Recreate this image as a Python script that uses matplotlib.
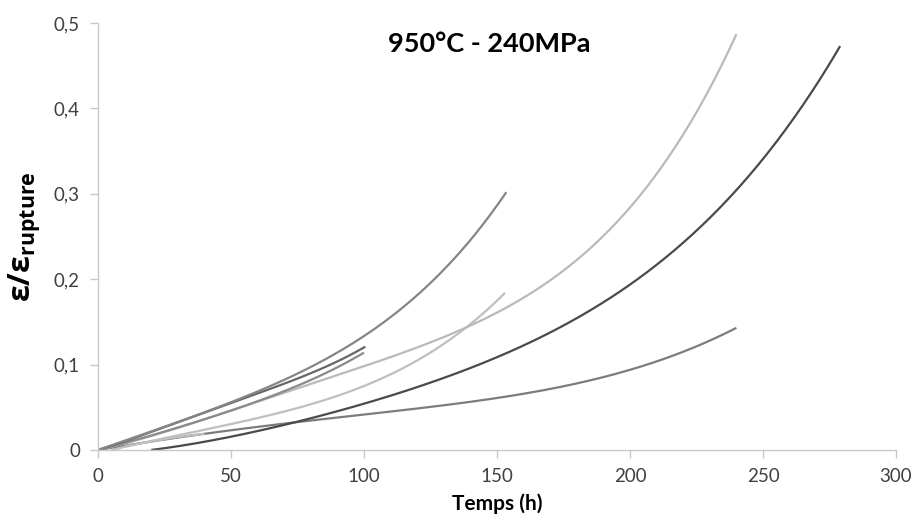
import numpy as np
import matplotlib.pyplot as plt

plt.rcParams['font.family'] = ['Lato', 'DejaVu Sans']
plt.rcParams['mathtext.fontset'] = 'custom'
plt.rcParams['mathtext.rm'] = 'Open Sans'
plt.rcParams['mathtext.bf'] = 'Open Sans:bold'

# creep curves (time in h, strain / rupture strain)
a_t = [0, 20, 40, 60, 80, 100, 120, 140, 153.5]
a_e = [0, 0.022, 0.045, 0.068, 0.095, 0.134, 0.186, 0.240, 0.302]

b_t = [0, 20, 40, 60, 80, 100.5]
b_e = [0, 0.021, 0.044, 0.066, 0.090, 0.121]

c_t = [0, 20, 40, 60, 80, 100]
c_e = [0, 0.017, 0.036, 0.057, 0.082, 0.114]

d_t = [0, 20, 44, 68, 87, 100, 120, 143.6, 165, 182, 189, 200, 214, 226, 240]
d_e = [0, 0.020, 0.040, 0.065, 0.083, 0.096, 0.119, 0.152, 0.190, 0.230, 0.250, 0.285, 0.334, 0.398, 0.487]

e_t = [5, 20, 44, 60, 87, 100, 120, 140, 153]
e_e = [0, 0.011, 0.026, 0.037, 0.061, 0.075, 0.104, 0.148, 0.184]

h_t = [10, 20, 30, 40]
h_e = [0.004, 0.010, 0.015, 0.019]

f_t = [20, 44, 72, 87, 100, 120, 140, 160, 177, 200, 215, 230, 246, 264, 279]
f_e = [0, 0.014, 0.031, 0.043, 0.054, 0.072, 0.094, 0.122, 0.153, 0.196, 0.228, 0.270, 0.326, 0.398, 0.473]

g_t = [0, 20, 44, 72, 87, 100, 120, 140, 160, 180, 200, 215, 230, 240]
g_e = [0, 0.011, 0.020, 0.031, 0.037, 0.042, 0.049, 0.056, 0.066, 0.078, 0.093, 0.110, 0.128, 0.143]

x_ticks = [0, 50, 100, 150, 200, 250, 300]
y_ticks = [0, 0.1, 0.2, 0.3, 0.4, 0.5]
y_labels = ['0', '0,1', '0,2', '0,3', '0,4', '0,5']


def smooth_curve(t, e, n=300):
    # least-squares polynomial through the read points, ends pinned by weight
    t = np.array(t, dtype=float)
    e = np.array(e, dtype=float)
    deg = min(4, len(t) - 2)
    w = np.ones_like(t)
    w[0] = w[-1] = 6
    p = np.polyfit(t, e, deg, w=w)
    tt = np.linspace(t[0], t[-1], n)
    return tt, np.polyval(p, tt)


fig = plt.figure(figsize=(9.17, 5.25), dpi=100)
ax = fig.add_axes([0.1069, 0.1429, 0.8702, 0.8133])

curves = [
    (g_t, g_e, '#7c7c7c'),
    (f_t, f_e, '#4a4a4a'),
    (h_t, h_e, '#bdbdbd'),
    (e_t, e_e, '#bfbfbf'),
    (d_t, d_e, '#bababa'),
    (c_t, c_e, '#8a8a8a'),
    (b_t, b_e, '#666666'),
    (a_t, a_e, '#858585'),
]
for t, e, col in curves:
    tt, ee = smooth_curve(t, e)
    ax.plot(tt, ee, color=col, linewidth=1.6, solid_capstyle='butt')

ax.set_xlim(0, 300)
ax.set_ylim(0, 0.5)
ax.set_xticks(x_ticks)
ax.set_yticks(y_ticks)
ax.set_yticklabels(y_labels)

for s in ['top', 'right']:
    ax.spines[s].set_visible(False)
for s in ['left', 'bottom']:
    ax.spines[s].set_color('#c8c8c8')
    ax.spines[s].set_linewidth(1.0)
ax.tick_params(axis='both', colors='#c8c8c8', length=6, width=1.0,
               labelsize=13.5, labelcolor='#404040', pad=7)

ax.set_xlabel('Temps (h)', fontsize=15, fontweight='bold', labelpad=6)
ax.set_ylabel(r'ε/ε$_{\mathbf{rupture}}$', fontsize=22, fontweight='bold',
              family=['Open Sans', 'DejaVu Sans'], labelpad=8)

ax.text(0.49, 0.95, '950°C - 240MPa', transform=ax.transAxes,
        fontsize=19.5, fontweight='bold', ha='center', va='center')

fig.savefig('out.png', dpi=100)
